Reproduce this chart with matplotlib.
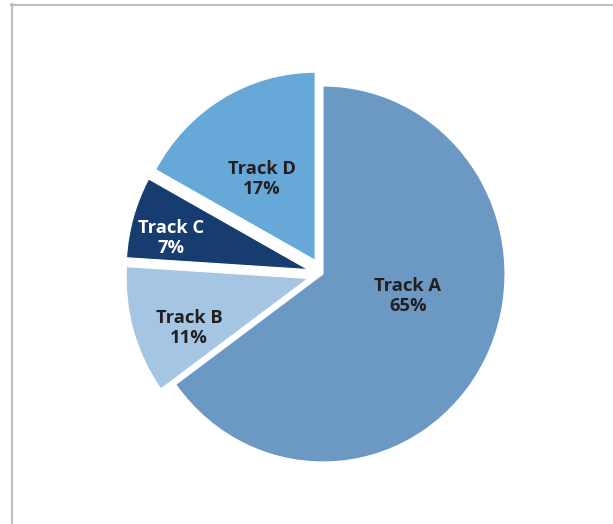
import matplotlib
matplotlib.use("Agg")
import matplotlib.pyplot as plt
from matplotlib.lines import Line2D

categories = ["Track A", "Track B", "Track C", "Track D"]
values = [65, 11, 7, 17]
colors = ["#6C98C4", "#A5C6E3", "#173C6F", "#66A9D8"]
text_colors = ["#231F20", "#231F20", "#FFFFFF", "#231F20"]
explode = [0.0, 0.085, 0.085, 0.085]

# label anchor positions in pixel coordinates (layout only)
label_px = [(408, 296), (189, 328), (171, 238), (262, 179)]

W, H = 613, 524
fig = plt.figure(figsize=(W / 100, H / 100), dpi=100)
ax = fig.add_axes([0, 0, 1, 1])

cx, cy = 323, 274
sx, sy = 182, 188
wedges, _ = ax.pie(values, colors=colors, explode=explode, startangle=90,
                   counterclock=False, radius=1.0,
                   wedgeprops=dict(edgecolor="white", linewidth=0.8))
ax.set_aspect("auto")
ax.set_xlim(-cx / sx, (W - cx) / sx)
ax.set_ylim(-(H - cy) / sy, cy / sy)
ax.axis("off")

for cat, v, tc, (px, py) in zip(categories, values, text_colors, label_px):
    ax.text((px - cx) / sx, (cy - py) / sy, f"{cat}\n{v}%", ha="center", va="center",
            fontsize=13.2, fontweight="bold", color=tc, family="Open Sans",
            linespacing=1.15)

border = "#C0C0C0"
fig.add_artist(Line2D([12 / W, 12 / W], [0, 1 - 4 / H], color=border, linewidth=1.6,
                      transform=fig.transFigure))
fig.add_artist(Line2D([11 / W, 1], [1 - 5 / H, 1 - 5 / H], color=border, linewidth=1.6,
                      transform=fig.transFigure))

fig.savefig("out.png", dpi=100, facecolor="white")
